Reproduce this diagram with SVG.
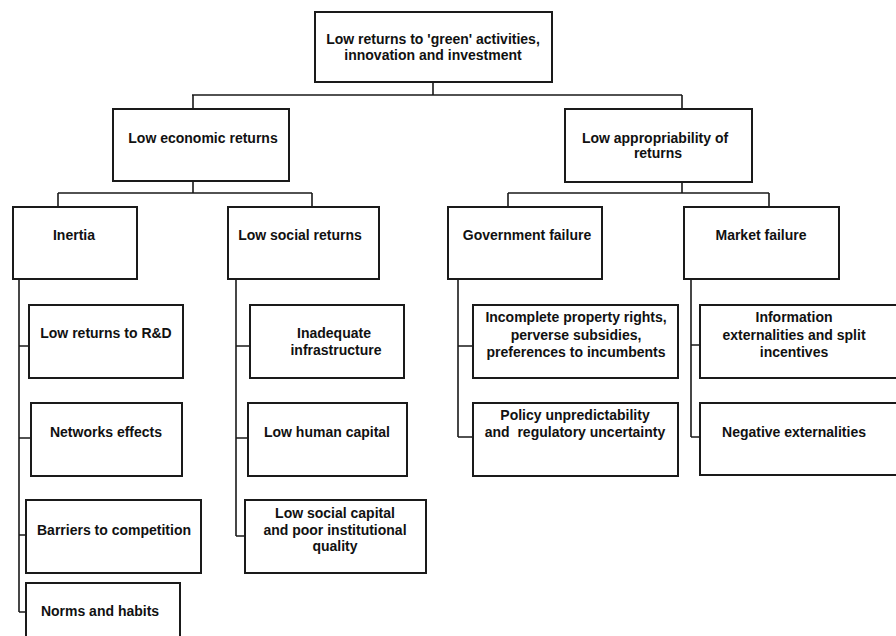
<svg xmlns="http://www.w3.org/2000/svg" width="896" height="636" viewBox="0 0 896 636">
  <style>
    .box { fill: #ffffff; stroke: #1a1a1a; stroke-width: 2; }
    .lbl { font-family: "Liberation Sans", Arial, sans-serif; font-weight: bold; font-size: 14px; fill: #111111; text-anchor: middle; }
    .wire { fill: none; stroke: #1a1a1a; stroke-width: 1.6; }
  </style>
  <rect width="896" height="636" fill="#ffffff"/>

  <!-- connectors -->
  <g id="connectors" class="wire">
    <path d="M433,82 V95 M192,95 H682 M193,95 V109 M682,95 V109"/>
    <path d="M193,181 V193 M58,193 H312 M58,193 V207 M312,193 V207"/>
    <path d="M682,182 V193 M508,193 H769 M508,193 V207 M769,193 V207"/>
    <path d="M19,279 V612 M19,346 H29 M19,438 H31 M19,535 H26 M19,612 H26"/>
    <path d="M236,279 V536 M236,346 H250 M236,438 H248 M236,536 H245"/>
    <path d="M458,279 V437 M458,346 H473 M458,437 H473"/>
    <path d="M691,279 V437 M691,345 H700 M691,437 H700"/>
  </g>

  <g id="root">
    <rect class="box" x="315" y="12" width="237" height="70"/>
    <text class="lbl" x="433" y="44">Low returns to 'green' activities,</text>
    <text class="lbl" x="433" y="60">innovation and investment</text>
  </g>

  <g id="low-economic-returns">
    <rect class="box" x="113" y="109" width="176" height="72"/>
    <text class="lbl" x="203" y="143">Low economic returns</text>
  </g>

  <g id="low-appropriability">
    <rect class="box" x="565" y="109" width="187" height="73"/>
    <text class="lbl" x="655" y="143">Low appropriability of</text>
    <text class="lbl" x="658" y="158">returns</text>
  </g>

  <g id="inertia">
    <rect class="box" x="13" y="207" width="124" height="72"/>
    <text class="lbl" x="74" y="240">Inertia</text>
  </g>

  <g id="low-social-returns">
    <rect class="box" x="228" y="207" width="151" height="72"/>
    <text class="lbl" x="300" y="240">Low social returns</text>
  </g>

  <g id="government-failure">
    <rect class="box" x="448" y="207" width="154" height="72"/>
    <text class="lbl" x="527" y="240">Government failure</text>
  </g>

  <g id="market-failure">
    <rect class="box" x="684" y="207" width="155" height="72"/>
    <text class="lbl" x="761" y="240">Market failure</text>
  </g>

  <g id="low-returns-rd">
    <rect class="box" x="29" y="305" width="154" height="73"/>
    <text class="lbl" x="106" y="338">Low returns to R&amp;D</text>
  </g>

  <g id="networks-effects">
    <rect class="box" x="31" y="403" width="151" height="73"/>
    <text class="lbl" x="106" y="437">Networks effects</text>
  </g>

  <g id="barriers-to-competition">
    <rect class="box" x="26" y="500" width="175" height="73"/>
    <text class="lbl" x="114" y="535">Barriers to competition</text>
  </g>

  <g id="norms-and-habits">
    <rect class="box" x="26" y="583" width="154" height="62"/>
    <text class="lbl" x="100" y="616">Norms and habits</text>
  </g>

  <g id="inadequate-infrastructure">
    <rect class="box" x="250" y="305" width="154" height="73"/>
    <text class="lbl" x="334" y="338">Inadequate</text>
    <text class="lbl" x="336" y="355">infrastructure</text>
  </g>

  <g id="low-human-capital">
    <rect class="box" x="248" y="403" width="159" height="73"/>
    <text class="lbl" x="327" y="437">Low human capital</text>
  </g>

  <g id="low-social-capital">
    <rect class="box" x="245" y="500" width="181" height="73"/>
    <text class="lbl" x="335" y="518">Low social capital</text>
    <text class="lbl" x="335" y="535">and poor institutional</text>
    <text class="lbl" x="335" y="551">quality</text>
  </g>

  <g id="incomplete-property-rights">
    <rect class="box" x="473" y="305" width="205" height="73"/>
    <text class="lbl" x="576" y="322">Incomplete property rights,</text>
    <text class="lbl" x="576" y="340">perverse subsidies,</text>
    <text class="lbl" x="576" y="357">preferences to incumbents</text>
  </g>

  <g id="policy-unpredictability">
    <rect class="box" x="473" y="403" width="205" height="73"/>
    <text class="lbl" x="575" y="420">Policy unpredictability</text>
    <text class="lbl" x="575" y="437" xml:space="preserve">and  regulatory uncertainty</text>
  </g>

  <g id="information-externalities">
    <rect class="box" x="700" y="305" width="200" height="73"/>
    <text class="lbl" x="794" y="322">Information</text>
    <text class="lbl" x="794" y="340">externalities and split</text>
    <text class="lbl" x="794" y="357">incentives</text>
  </g>

  <g id="negative-externalities">
    <rect class="box" x="700" y="403" width="200" height="72"/>
    <text class="lbl" x="794" y="437">Negative externalities</text>
  </g>
</svg>
